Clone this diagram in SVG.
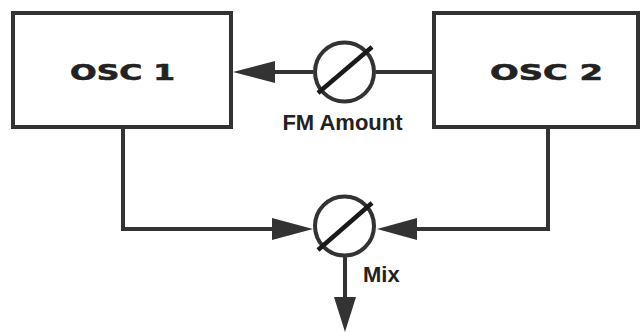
<svg xmlns="http://www.w3.org/2000/svg" width="641" height="332" viewBox="0 0 641 332">
<style>
.box{fill:#fff;stroke:#333;stroke-width:4}
.wire{fill:none;stroke:#333;stroke-width:4}
.knob{fill:#fff;stroke:#333;stroke-width:4}
.slash{stroke:#1a1a1a;stroke-width:4.5}
.head{fill:#333}
.osc{font-family:"DejaVu Sans","Liberation Sans",sans-serif;font-weight:bold;font-size:21px;fill:#222;stroke:#222;stroke-width:0.6}
.lbl{font-family:"Liberation Sans",Arial,sans-serif;font-weight:bold;font-size:22px;fill:#222}
</style>
<rect width="641" height="332" fill="#fff"/>
<g id="connectors">
<line class="wire" x1="376" y1="72" x2="434" y2="72"/>
<line class="wire" x1="272" y1="72" x2="313" y2="72"/>
<polygon class="head" points="233,72 275,61 275,83"/>
<polyline class="wire" points="123,127 123,229 275,229"/>
<polygon class="head" points="313,229 272,218 272,240"/>
<polyline class="wire" points="548,127 548,229 414,229"/>
<polygon class="head" points="377,229 417,218 417,240"/>
<line class="wire" x1="345" y1="257" x2="345" y2="300"/>
<polygon class="head" points="345,332 334,297 356,297"/>
</g>
<g id="osc1">
<rect class="box" x="13" y="13" width="218" height="114"/>
<text class="osc" x="70" y="80" textLength="105" lengthAdjust="spacingAndGlyphs">OSC 1</text>
</g>
<g id="osc2">
<rect class="box" x="434" y="13" width="204" height="114"/>
<text class="osc" x="490" y="80" textLength="113" lengthAdjust="spacingAndGlyphs">OSC 2</text>
</g>
<g id="fm-amount">
<circle class="knob" cx="344.5" cy="72" r="29.5"/>
<line class="slash" x1="318" y1="93" x2="372" y2="47"/>
<text class="lbl" x="342.5" y="130" text-anchor="middle">FM Amount</text>
</g>
<g id="mix">
<circle class="knob" cx="344.5" cy="226" r="29.5"/>
<line class="slash" x1="318" y1="250" x2="372" y2="203"/>
<text class="lbl" x="363" y="282">Mix</text>
</g>
</svg>
